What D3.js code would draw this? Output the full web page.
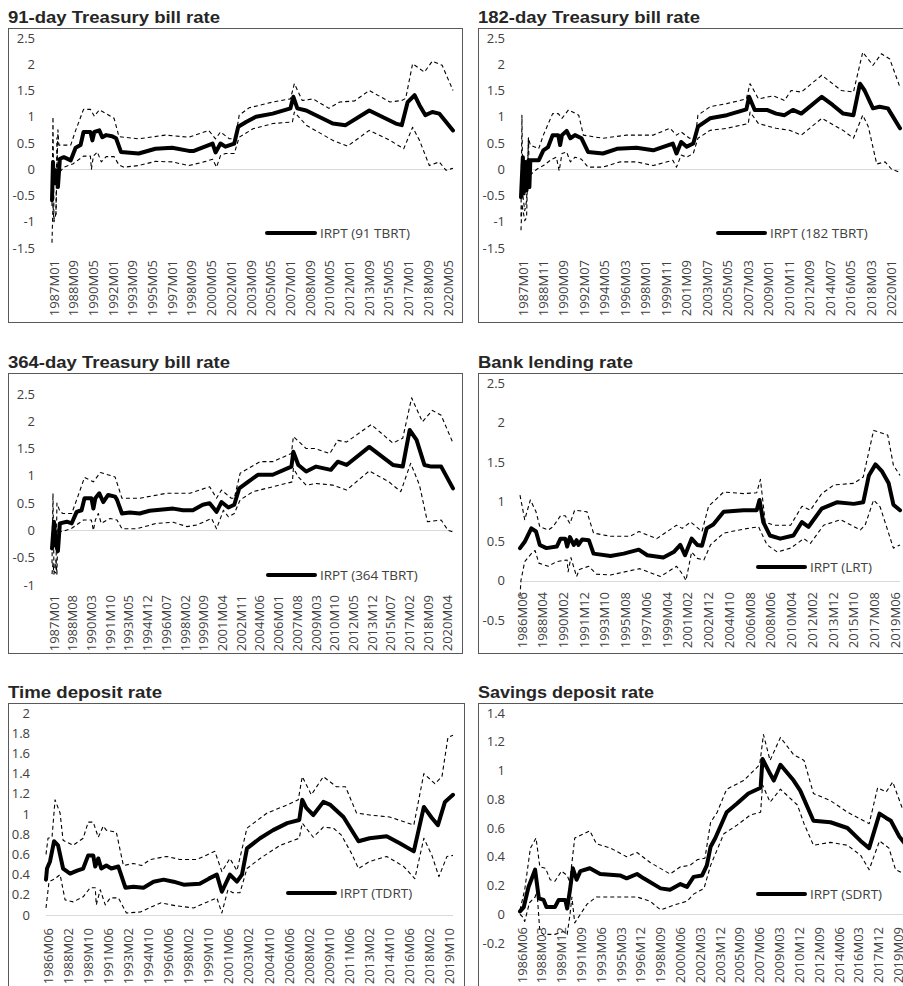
<!DOCTYPE html>
<html>
<head>
<meta charset="utf-8">
<script src="https://cdn.jsdelivr.net/npm/d3@7"></script>
<style>
  html, body { margin: 0; padding: 0; background: #fff; overflow: hidden; }
  svg { display: block; }
</style>
</head>
<body>
<svg id="chart" width="903" height="986"></svg>
<script>
// Monthly category labels, e.g. "1987M01"
function monthSeq(year, month, count) {
  const out = [];
  for (let i = 0; i < count; i++) {
    const t = (month - 1) + i;
    const y = year + Math.floor(t / 12);
    const m = t % 12 + 1;
    out.push(y + "M" + String(m).padStart(2, "0"));
  }
  return out;
}

// Categories for each panel
const catsTB91 = monthSeq(1987, 1, 408);
const catsTB182 = monthSeq(1987, 1, 408);
const catsTB364 = monthSeq(1987, 1, 408);
const catsLRT = monthSeq(1986, 6, 404);
const catsTDRT = monthSeq(1986, 6, 406);
const catsSDRT = monthSeq(1986, 6, 409);

// Series: [month index into the panel's categories, value]
const tb91Main = [[0,-0.59],[1,0.14],[2,-0.27],[4,-0.02],[6,-0.34],[8,0.2],[12,0.23],[19,0.17],[24,0.41],[29,0.46],[32,0.71],[39,0.71],[41,0.55],[43,0.71],[48,0.74],[51,0.61],[55,0.65],[61,0.63],[65,0.59],[70,0.33],[88,0.30],[105,0.39],[122,0.41],[139,0.35],[144,0.35],[163,0.49],[166,0.32],[171,0.49],[176,0.43],[185,0.49],[189,0.81],[197,0.90],[207,1.0],[224,1.06],[242,1.16],[245,1.38],[249,1.16],[258,1.12],[285,0.87],[298,0.84],[322,1.12],[349,0.87],[355,0.84],[361,1.28],[368,1.41],[373,1.22],[379,1.03],[386,1.09],[393,1.06],[407,0.74]];
const tb91Upper = [[0,-0.7],[1,1.0],[2,-0.95],[4,-0.85],[6,0.75],[7,0.46],[19,0.46],[24,0.74],[32,1.14],[39,1.14],[43,1.01],[48,1.13],[55,1.06],[63,0.97],[68,0.62],[88,0.58],[115,0.65],[139,0.61],[159,0.74],[166,0.58],[171,0.71],[180,0.58],[186,0.58],[190,1.03],[200,1.17],[224,1.28],[242,1.34],[246,1.63],[254,1.31],[265,1.34],[281,1.16],[292,1.28],[307,1.30],[322,1.50],[343,1.28],[355,1.31],[359,1.35],[366,2.01],[378,1.85],[386,2.06],[396,1.98],[407,1.50]];
const tb91Lower = [[0,-1.4],[1,-0.65],[2,-1.0],[4,-0.85],[5,0.6],[6,-0.1],[8,-0.05],[12,0.04],[21,0.1],[32,0.25],[39,0.25],[40,0.0],[42,0.25],[46,0.33],[50,0.14],[55,0.24],[63,0.24],[68,0.08],[73,0.04],[88,0.07],[105,0.15],[122,0.14],[139,0.07],[156,0.15],[163,0.19],[167,0.04],[171,0.26],[176,0.3],[185,0.3],[190,0.61],[204,0.77],[224,0.87],[244,0.90],[246,1.09],[258,0.84],[285,0.55],[300,0.44],[322,0.74],[343,0.55],[357,0.39],[366,0.80],[373,0.55],[383,0.07],[393,0.14],[400,-0.02],[407,0.02]];

const tb182Main = [[0,-0.53],[2,0.23],[3,-0.46],[5,0.14],[6,-0.4],[8,0.17],[9,-0.34],[10,0.17],[19,0.17],[24,0.36],[29,0.42],[34,0.65],[40,0.65],[42,0.46],[44,0.65],[49,0.73],[53,0.59],[58,0.65],[65,0.59],[72,0.33],[88,0.30],[103,0.39],[124,0.41],[142,0.36],[163,0.49],[167,0.30],[172,0.52],[178,0.43],[185,0.49],[190,0.81],[203,0.97],[221,1.03],[242,1.14],[245,1.38],[251,1.13],[264,1.13],[274,1.06],[283,1.03],[292,1.13],[301,1.06],[323,1.38],[335,1.22],[346,1.06],[357,1.03],[364,1.63],[369,1.50],[378,1.16],[385,1.19],[394,1.16],[407,0.78]];
const tb182Upper = [[0,-0.9],[1,1.03],[2,-0.5],[4,-0.79],[6,-0.6],[8,0.6],[10,0.46],[19,0.39],[24,0.65],[34,1.06],[40,1.06],[44,0.97],[51,1.13],[62,1.03],[67,0.65],[88,0.59],[113,0.65],[142,0.65],[160,0.78],[167,0.65],[172,0.71],[181,0.59],[187,0.59],[190,1.03],[203,1.19],[221,1.25],[242,1.34],[246,1.63],[255,1.34],[271,1.40],[283,1.31],[290,1.50],[301,1.47],[323,1.79],[344,1.50],[357,1.47],[367,2.23],[378,1.98],[387,2.2],[396,2.1],[407,1.56]];
const tb182Lower = [[0,-1.16],[1,-0.66],[4,-0.98],[6,-0.92],[8,0.6],[9,-0.15],[11,-0.09],[17,0.0],[24,0.07],[33,0.19],[38,0.23],[41,-0.03],[44,0.30],[49,0.33],[53,0.14],[58,0.23],[65,0.19],[72,0.04],[88,0.04],[106,0.14],[124,0.14],[142,0.07],[163,0.17],[167,0.04],[172,0.27],[178,0.23],[185,0.30],[190,0.59],[203,0.74],[221,0.78],[244,0.87],[246,1.09],[255,0.87],[274,0.78],[289,0.74],[301,0.65],[323,0.97],[346,0.74],[357,0.59],[367,1.03],[373,0.81],[382,0.10],[391,0.14],[398,0.0],[407,-0.06]];

const tb364Main = [[0,-0.33],[2,0.16],[4,-0.27],[6,-0.38],[8,0.13],[15,0.16],[20,0.13],[25,0.34],[30,0.37],[33,0.59],[40,0.59],[42,0.40],[44,0.59],[48,0.68],[52,0.52],[57,0.65],[64,0.62],[66,0.56],[71,0.31],[79,0.33],[89,0.31],[99,0.36],[123,0.40],[133,0.37],[143,0.37],[153,0.47],[160,0.50],[167,0.34],[172,0.52],[179,0.42],[185,0.47],[190,0.77],[199,0.89],[209,1.02],[224,1.02],[243,1.17],[245,1.44],[250,1.2],[258,1.08],[268,1.17],[283,1.11],[290,1.26],[299,1.2],[322,1.53],[346,1.2],[356,1.17],[363,1.84],[370,1.66],[378,1.2],[385,1.17],[395,1.17],[407,0.77]];
const tb364Upper = [[0,-0.6],[1,0.68],[2,-0.75],[4,-0.78],[5,0.5],[8,0.35],[11,0.31],[20,0.31],[25,0.56],[33,0.97],[42,0.89],[49,1.06],[55,1.03],[64,0.98],[71,0.59],[89,0.59],[116,0.68],[140,0.68],[160,0.80],[167,0.59],[172,0.74],[182,0.59],[185,0.59],[191,1.05],[211,1.26],[224,1.26],[243,1.41],[245,1.72],[258,1.5],[267,1.5],[282,1.41],[290,1.65],[299,1.62],[324,1.94],[346,1.6],[356,1.69],[365,2.43],[376,1.99],[386,2.2],[395,2.11],[407,1.6]];
const tb364Lower = [[0,-0.8],[1,-0.6],[2,-0.8],[4,-0.55],[5,-0.8],[6,0.05],[8,-0.02],[11,-0.02],[20,0.04],[32,0.19],[40,0.19],[42,0.0],[44,0.19],[47,0.31],[50,0.13],[59,0.22],[66,0.19],[71,0.03],[86,0.03],[106,0.13],[123,0.15],[137,0.07],[147,0.10],[162,0.22],[167,0.03],[174,0.37],[179,0.25],[185,0.31],[191,0.56],[204,0.71],[224,0.80],[244,0.89],[245,1.14],[250,0.98],[258,0.83],[268,0.86],[285,0.83],[299,0.74],[322,1.09],[342,0.89],[354,0.71],[364,1.23],[373,0.83],[381,0.16],[395,0.19],[402,0.0],[407,-0.03]];

const lrtMain = [[0,0.41],[5,0.49],[12,0.66],[17,0.62],[21,0.45],[28,0.41],[39,0.43],[43,0.53],[48,0.53],[50,0.43],[53,0.55],[57,0.45],[60,0.51],[62,0.45],[66,0.52],[73,0.51],[78,0.34],[96,0.31],[110,0.34],[126,0.39],[135,0.32],[152,0.29],[163,0.36],[170,0.45],[175,0.32],[182,0.53],[188,0.45],[193,0.44],[198,0.66],[205,0.71],[216,0.87],[237,0.89],[251,0.89],[254,1.02],[258,0.74],[265,0.57],[276,0.53],[290,0.57],[299,0.74],[306,0.68],[320,0.91],[336,0.99],[354,0.97],[364,0.99],[370,1.33],[377,1.47],[384,1.38],[391,1.23],[396,0.96],[403,0.89]];
const lrtUpper = [[0,1.08],[5,0.77],[11,1.02],[17,0.87],[21,0.68],[30,0.64],[35,0.68],[43,0.82],[48,0.82],[53,0.72],[58,0.89],[71,0.87],[78,0.60],[96,0.56],[117,0.56],[126,0.62],[145,0.53],[166,0.70],[172,0.66],[181,0.74],[193,0.62],[200,0.94],[216,1.12],[237,1.1],[251,1.11],[255,1.28],[260,0.74],[269,0.70],[287,0.70],[299,0.94],[308,0.89],[320,1.1],[333,1.21],[354,1.23],[364,1.31],[375,1.90],[390,1.84],[396,1.46],[403,1.33]];
const lrtLower = [[0,-0.2],[1,0.0],[5,0.24],[12,0.34],[16,0.38],[20,0.22],[30,0.18],[39,0.24],[50,0.26],[51,0.11],[54,0.29],[60,0.05],[63,0.14],[73,0.18],[81,0.08],[96,0.07],[127,0.15],[149,0.05],[166,0.18],[173,0.07],[176,0.0],[182,0.36],[188,0.28],[195,0.26],[202,0.45],[216,0.60],[237,0.65],[253,0.68],[262,0.45],[273,0.36],[287,0.41],[301,0.53],[308,0.47],[322,0.70],[340,0.77],[361,0.64],[366,0.7],[375,1.02],[382,0.93],[396,0.41],[403,0.45]];

const tdrtMain = [[0,0.35],[1,0.46],[4,0.53],[8,0.73],[12,0.69],[17,0.46],[24,0.41],[31,0.44],[37,0.46],[42,0.59],[47,0.59],[49,0.48],[52,0.56],[55,0.46],[60,0.49],[65,0.46],[72,0.48],[79,0.27],[87,0.28],[97,0.27],[107,0.33],[117,0.35],[127,0.33],[137,0.30],[153,0.31],[162,0.36],[170,0.40],[175,0.23],[183,0.40],[190,0.33],[195,0.40],[200,0.66],[213,0.76],[226,0.84],[240,0.91],[252,0.94],[255,1.14],[259,1.06],[266,0.99],[276,1.12],[283,1.09],[296,0.97],[311,0.73],[322,0.76],[339,0.78],[352,0.71],[366,0.63],[376,1.07],[384,0.96],[390,0.89],[397,1.12],[405,1.19]];
const tdrtUpper = [[0,0.6],[2,0.76],[6,0.77],[9,1.14],[14,1.01],[17,0.74],[27,0.69],[37,0.76],[42,0.92],[47,0.92],[52,0.77],[57,0.88],[60,0.84],[70,0.82],[77,0.49],[87,0.51],[95,0.49],[104,0.55],[120,0.58],[133,0.55],[150,0.55],[168,0.63],[175,0.43],[183,0.56],[190,0.44],[200,0.86],[220,1.01],[240,1.09],[251,1.14],[255,1.37],[264,1.19],[276,1.37],[289,1.27],[298,1.27],[309,1.01],[322,0.99],[342,0.97],[366,0.89],[376,1.40],[387,1.3],[394,1.37],[400,1.76],[405,1.78]];
const tdrtLower = [[0,0.07],[3,0.33],[9,0.36],[14,0.40],[19,0.15],[27,0.13],[37,0.18],[44,0.27],[49,0.27],[50,0.1],[54,0.25],[59,0.1],[64,0.17],[72,0.17],[80,0.02],[94,0.03],[114,0.12],[130,0.09],[147,0.07],[163,0.14],[170,0.17],[175,0.02],[181,0.25],[186,0.22],[193,0.22],[200,0.46],[213,0.56],[233,0.69],[252,0.76],[255,0.91],[266,0.77],[276,0.87],[286,0.86],[294,0.79],[304,0.61],[311,0.46],[322,0.53],[339,0.58],[356,0.48],[367,0.36],[376,0.76],[384,0.59],[391,0.38],[399,0.58],[405,0.59]];

const sdrtMain = [[0,0.02],[4,0.05],[9,0.19],[16,0.31],[20,0.11],[25,0.10],[28,0.05],[37,0.05],[41,0.10],[48,0.10],[50,0.04],[53,0.17],[56,0.32],[60,0.24],[64,0.30],[74,0.32],[85,0.28],[106,0.27],[113,0.25],[124,0.28],[131,0.25],[149,0.18],[159,0.17],[170,0.21],[177,0.19],[184,0.26],[193,0.27],[198,0.34],[202,0.47],[207,0.53],[219,0.71],[230,0.77],[242,0.84],[255,0.88],[257,1.08],[264,0.99],[269,0.93],[276,1.04],[290,0.93],[297,0.86],[311,0.65],[329,0.64],[347,0.60],[361,0.51],[370,0.46],[381,0.70],[388,0.67],[393,0.65],[402,0.54],[408,0.49]];
const sdrtUpper = [[0,0.03],[5,0.17],[11,0.46],[17,0.53],[21,0.33],[27,0.32],[32,0.24],[37,0.23],[44,0.30],[50,0.27],[53,0.22],[54,0.3],[58,0.53],[74,0.58],[81,0.49],[96,0.46],[113,0.40],[124,0.43],[138,0.36],[159,0.28],[170,0.33],[180,0.34],[188,0.38],[196,0.39],[202,0.64],[209,0.71],[219,0.87],[237,0.93],[254,1.04],[258,1.25],[265,1.07],[276,1.23],[290,1.11],[301,1.07],[311,0.84],[329,0.79],[347,0.71],[370,0.63],[379,0.88],[388,0.85],[395,0.92],[405,0.74],[408,0.72]];
const sdrtLower = [[0,0.0],[3,-0.02],[5,-0.05],[10,0.08],[16,0.12],[18,0.16],[21,-0.12],[25,-0.14],[37,-0.14],[46,-0.12],[50,-0.14],[53,0.0],[55,0.12],[58,-0.06],[60,-0.04],[71,0.07],[81,0.12],[96,0.12],[124,0.12],[138,0.09],[149,0.03],[166,0.07],[177,0.09],[184,0.14],[195,0.18],[202,0.34],[216,0.56],[230,0.62],[244,0.69],[255,0.71],[257,0.90],[265,0.78],[276,0.87],[294,0.76],[301,0.63],[311,0.48],[329,0.50],[347,0.48],[361,0.41],[370,0.31],[381,0.51],[391,0.46],[398,0.31],[408,0.28]];

// Titles, legend labels and value-axis ticks
const titles = ["91-day Treasury bill rate", "182-day Treasury bill rate", "364-day Treasury bill rate",
                "Bank lending rate", "Time deposit rate", "Savings deposit rate"];
const legendLabels = ["IRPT (91 TBRT)", "IRPT (182 TBRT)", "IRPT (364 TBRT)",
                      "IRPT (LRT)", "IRPT (TDRT)", "IRPT (SDRT)"];
const ticksTB = [-1.5, -1, -0.5, 0, 0.5, 1, 1.5, 2, 2.5];
const ticksTB364 = [-1, -0.5, 0, 0.5, 1, 1.5, 2, 2.5];
const ticksLRT = [-0.5, 0, 0.5, 1, 1.5, 2, 2.5];
const ticksTDRT = [0, 0.2, 0.4, 0.6, 0.8, 1, 1.2, 1.4, 1.6, 1.8, 2];
const ticksSDRT = [-0.2, 0, 0.2, 0.4, 0.6, 0.8, 1, 1.2, 1.4];

// Panel layout
const panels = [
  { title: titles[0], legend: legendLabels[0], cats: catsTB91, every: 20, ticks: ticksTB,
    series: [tb91Upper, tb91Lower, tb91Main],
    box: [8, 28, 462, 322], titleY: 23, titleW: 212, xr: [52, 453], yDom: [-1.5, 2.5], yr: [248, 38],
    tickX: 35, labelY: 260, leg: [267, 315, 233] },
  { title: titles[1], legend: legendLabels[1], cats: catsTB182, every: 22, ticks: ticksTB,
    series: [tb182Upper, tb182Lower, tb182Main],
    box: [478, 28, 932, 322], titleY: 23, titleW: 222, xr: [521, 900], yDom: [-1.5, 2.5], yr: [248, 38],
    tickX: 505, labelY: 260, leg: [718, 765, 233] },
  { title: titles[2], legend: legendLabels[2], cats: catsTB364, every: 19, ticks: ticksTB364,
    series: [tb364Upper, tb364Lower, tb364Main],
    box: [8, 373, 462, 653], titleY: 368, titleW: 222, xr: [52, 453], yDom: [-1, 2.5], yr: [585, 394],
    tickX: 35, labelY: 595, leg: [268, 315, 575] },
  { title: titles[3], legend: legendLabels[3], cats: catsLRT, every: 22, ticks: ticksLRT,
    series: [lrtUpper, lrtLower, lrtMain],
    box: [478, 373, 932, 653], titleY: 368, titleW: 155, xr: [520, 900], yDom: [-0.5, 2.5], yr: [620, 383],
    tickX: 505, labelY: 592, leg: [758, 805, 567] },
  { title: titles[4], legend: legendLabels[4], cats: catsTDRT, every: 20, ticks: ticksTDRT,
    series: [tdrtUpper, tdrtLower, tdrtMain],
    box: [8, 703, 464, 1000], titleY: 698, titleW: 154, xr: [46, 453], yDom: [0, 2], yr: [915, 713],
    tickX: 30, labelY: 928, leg: [288, 335, 893] },
  { title: titles[5], legend: legendLabels[5], cats: catsSDRT, every: 21, ticks: ticksSDRT,
    series: [sdrtUpper, sdrtLower, sdrtMain],
    box: [478, 703, 932, 1000], titleY: 698, titleW: 176, xr: [520, 905], yDom: [-0.2, 1.4], yr: [943, 713],
    tickX: 505, labelY: 927, leg: [758, 805, 894] }
];

const svg = d3.select("#chart");
const textFont = "'Open Sans', 'Noto Sans', sans-serif";
const fmt = v => String(+v.toFixed(1));

// Layers: frames, then lines, then all text on top
const frames = svg.append("g");
const marks = svg.append("g");
const texts = svg.append("g");

panels.forEach(p => {
  const x = d3.scalePoint().domain(p.cats).range(p.xr);
  const y = d3.scaleLinear().domain(p.yDom).range(p.yr);

  frames.append("rect")
    .attr("x", p.box[0] + 0.5).attr("y", p.box[1] + 0.5)
    .attr("width", p.box[2] - p.box[0]).attr("height", p.box[3] - p.box[1])
    .attr("fill", "none").attr("stroke", "#595959").attr("stroke-width", 1);

  // Zero line
  frames.append("line")
    .attr("x1", p.xr[0]).attr("x2", p.xr[1])
    .attr("y1", Math.round(y(0)) + 0.5).attr("y2", Math.round(y(0)) + 0.5)
    .attr("stroke", "#d9d9d9").attr("stroke-width", 1);

  // Lines: two dashed bands then the main estimate
  const line = d3.line().x(d => x(p.cats[d[0]])).y(d => y(d[1]));
  p.series.forEach((s, i) => {
    const main = i === 2;
    marks.append("path").datum(s)
      .attr("d", line)
      .attr("fill", "none").attr("stroke", "#000")
      .attr("stroke-width", main ? 4 : 1.1)
      .attr("stroke-dasharray", main ? null : "4,3")
      .attr("stroke-linejoin", "round")
      .attr("stroke-linecap", main ? "round" : "butt");
  });

  // Legend swatch
  marks.append("line")
    .attr("x1", p.leg[0]).attr("x2", p.leg[1]).attr("y1", p.leg[2]).attr("y2", p.leg[2])
    .attr("stroke", "#000").attr("stroke-width", 4).attr("stroke-linecap", "round");

  // Title
  texts.append("text")
    .attr("x", p.box[0]).attr("y", p.titleY)
    .attr("font-family", "'Liberation Sans', Arial, sans-serif")
    .attr("font-weight", "bold").attr("font-size", 16)
    .attr("textLength", p.titleW).attr("lengthAdjust", "spacingAndGlyphs")
    .attr("fill", "#262626")
    .text(p.title);

  // Value axis labels
  p.ticks.forEach(t => {
    texts.append("text")
      .attr("x", p.tickX).attr("y", y(t)).attr("dy", "0.35em")
      .attr("text-anchor", "end")
      .attr("font-family", textFont).attr("font-size", 13).attr("fill", "#404040")
      .text(fmt(t));
  });

  // Category labels, rotated
  p.cats.forEach((c, i) => {
    if (i % p.every !== 0) return;
    texts.append("text")
      .attr("transform", `translate(${x(c)},${p.labelY}) rotate(-90)`)
      .attr("text-anchor", "end").attr("dy", "0.5em")
      .attr("font-family", textFont).attr("font-size", 13).attr("fill", "#404040")
      .text(c);
  });

  // Legend label
  texts.append("text")
    .attr("x", p.leg[1] + 5).attr("y", p.leg[2]).attr("dy", "0.35em")
    .attr("font-family", textFont).attr("font-size", 13.5).attr("fill", "#404040")
    .text(p.legend);
});
</script>
</body>
</html>
